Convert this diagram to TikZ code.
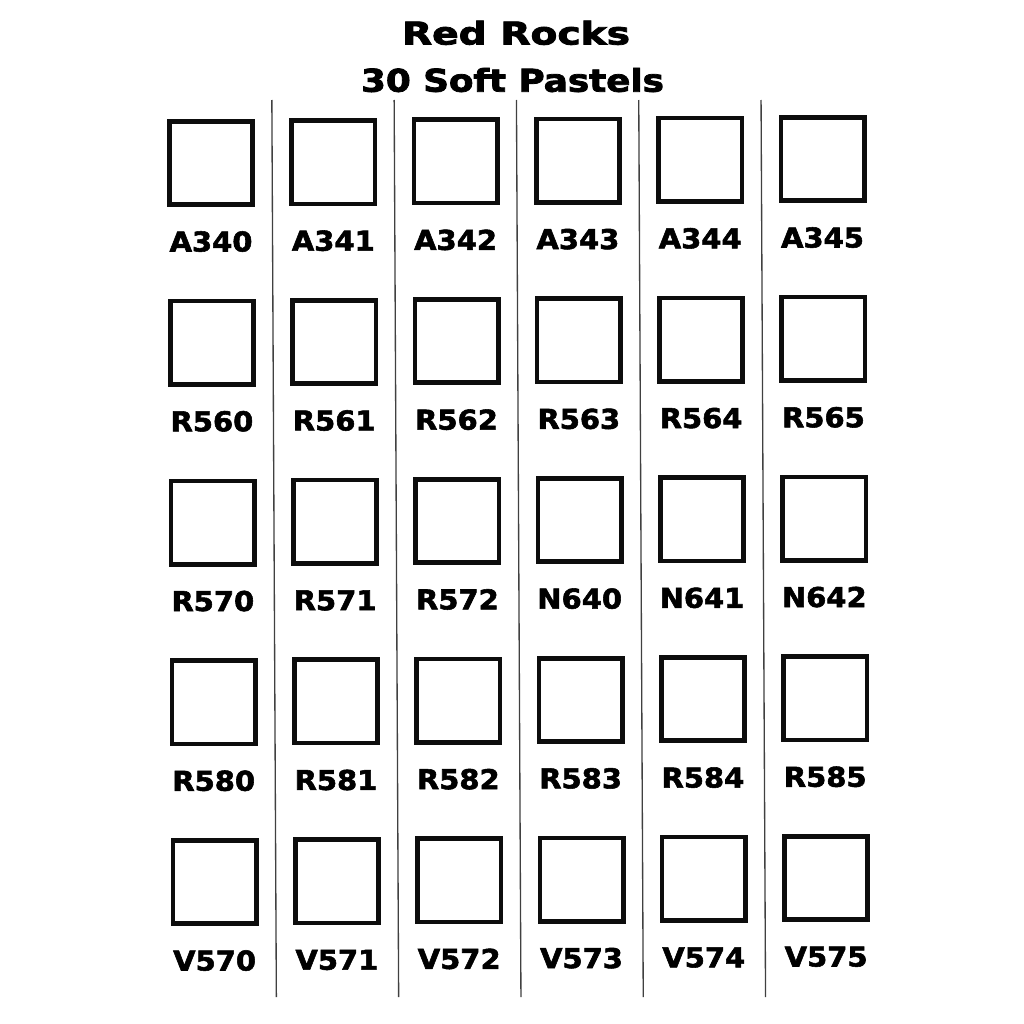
\documentclass[tikz,border=0pt]{standalone}
\usepackage{fontspec}
\usepackage{graphicx}
\setmainfont{DejaVu Sans}
\newfontfamily\heavyfont{DejaVu Sans Bold}[FakeBold=2]
\newfontfamily\titlefont{DejaVu Sans Bold}[FakeBold=2.4]
\begin{document}
\begin{tikzpicture}[x=0.75pt,y=-0.75pt]
\tikzset{
  sq/.style={draw=black!95, line width=3.5pt, minimum size=62.5pt, inner sep=0pt, outer sep=0pt},
  lab/.style={font=\fontsize{20.5}{24}\selectfont\heavyfont, text=black, anchor=base, inner sep=0pt},
  ttl/.style={font=\fontsize{23.5}{27}\selectfont\titlefont, text=black, anchor=base, inner sep=0pt},
  sep/.style={draw=black!75, line width=1pt}
}
\fill[white] (0,0) rectangle (1024,1024);
\useasboundingbox (0,0) rectangle (1024,1024);
\node[ttl] (title1) at (516,44.5) {\scalebox{1.25}[1]{Red Rocks}};
\node[ttl] (title2) at (512.5,91.7) {\scalebox{1.14}[1]{30 Soft Pastels}};
\foreach \k in {1,...,5} {
  \pgfmathsetmacro\xt{211+122.3*(\k-0.5)-0.3}
  \pgfmathsetmacro\xb{\xt+4.5}
  \coordinate (top\k) at (\xt,100);
  \coordinate (bot\k) at (\xb,997);
  \draw[sep] (top\k) -- (bot\k);
}
\foreach \n [count=\i from 0] in {A340,A341,A342,A343,A344,A345,
  R560,R561,R562,R563,R564,R565,
  R570,R571,R572,N640,N641,N642,
  R580,R581,R582,R583,R584,R585,
  V570,V571,V572,V573,V574,V575} {
  \pgfmathtruncatemacro\c{mod(\i,6)}
  \pgfmathtruncatemacro\r{\i/6}
  \pgfmathsetmacro\cx{211+122.3*\c+0.9*\r}
  \pgfmathsetmacro\cy{163+179.75*\r-0.8*\c}
  \pgfmathsetmacro\ly{\cy+88.5}
  \node[sq] (s\c\r) at (\cx,\cy) {};
  \node[lab] (l\c\r) at (\cx,\ly) {\scalebox{1.06}[1]{\n}};
}
\end{tikzpicture}
\end{document}
